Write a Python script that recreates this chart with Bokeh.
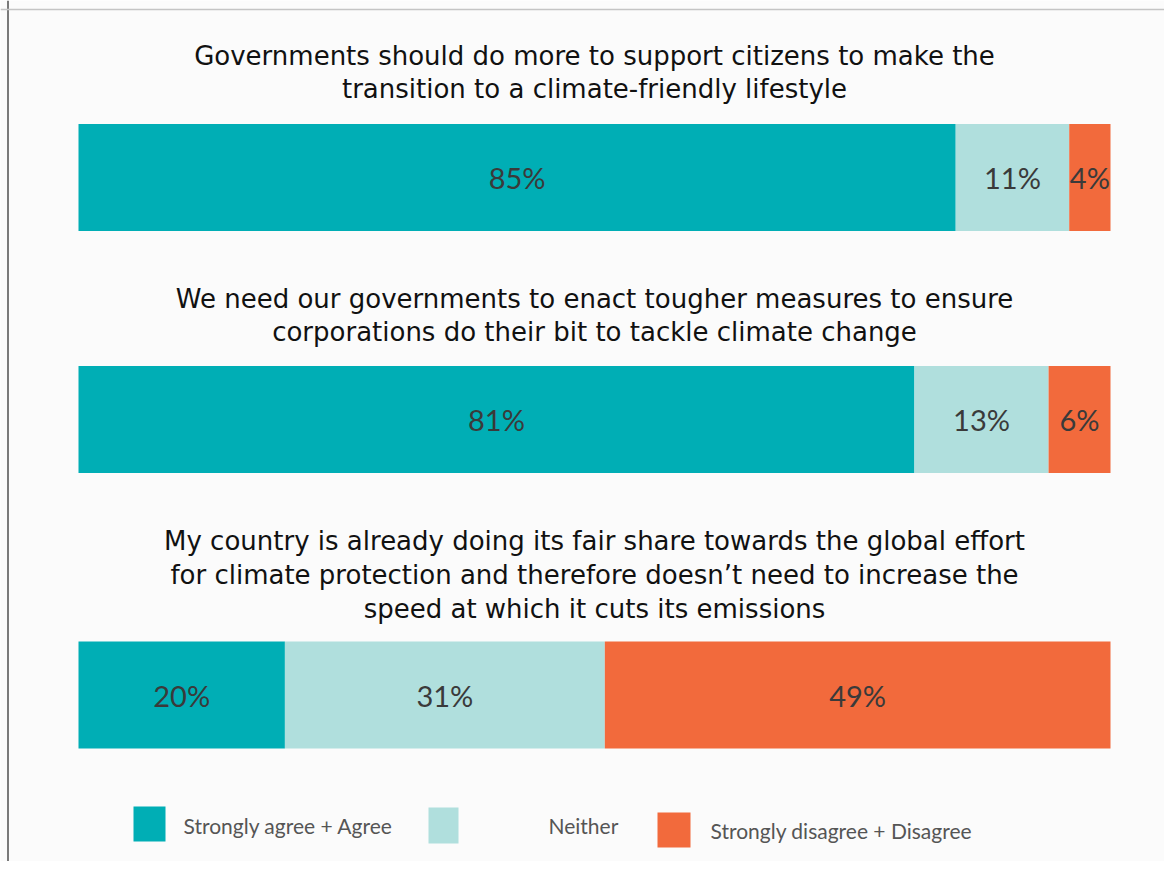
from bokeh.plotting import figure
from bokeh.models import Range1d, Span, ColumnDataSource
from bokeh.core.properties import value
from bokeh.embed import file_html
from bokeh.resources import INLINE

# ---- data ----
statements = [
    ["Governments should do more to support citizens to make the",
     "transition to a climate-friendly lifestyle"],
    ["We need our governments to enact tougher measures to ensure",
     "corporations do their bit to tackle climate change"],
    ["My country is already doing its fair share towards the global effort",
     "for climate protection and therefore doesn\u2019t need to increase the",
     "speed at which it cuts its emissions"],
]
agree = [85, 81, 20]
neither = [11, 13, 31]
disagree = [4, 6, 49]
series_names = ["Strongly agree + Agree", "Neither", "Strongly disagree + Disagree"]
colors = ["#00aeb5", "#b0dfdd", "#f26a3c"]

# ---- layout (reference pixel geometry) ----
W, H = 1164, 861
X0, X1 = 78, 1110            # pixel span of 0..100 %
def px(x):
    return (x - X0) / (X1 - X0) * 100.0

bar_center = [177, 419, 694.5]
bar_h = 107
title_base = [[55, 88], [298, 331], [540, 574, 608]]

p = figure(width=W, height=H, output_backend="svg", toolbar_location=None,
           x_axis_type=None, y_axis_type=None,
           x_range=Range1d(px(0), px(W)), y_range=Range1d(H, 0),
           min_border=0, outline_line_color=None,
           background_fill_color="#fbfbfb", border_fill_color="#fbfbfb")
p.grid.visible = False

series = [agree, neither, disagree]
for i, vals in enumerate(series):
    left = [sum(s[k] for s in series[:i]) for k in range(3)]
    right = [l + v for l, v in zip(left, vals)]
    src = ColumnDataSource(dict(y=bar_center, left=left, right=right,
                                mid=[(l + r) / 2 for l, r in zip(left, right)],
                                lab=[f"{v}%" for v in vals]))
    p.hbar(y="y", left="left", right="right", height=bar_h, source=src,
           fill_color=colors[i], line_color=None)
    p.text(x="mid", y="y", text="lab", source=src, text_align="center",
           text_baseline="middle", text_font=value("Lato"),
           text_font_size="29px", text_color="#3a3a3a")

# statement titles
tx, ty, tt = [], [], []
for lines, bases in zip(statements, title_base):
    for ln, b in zip(lines, bases):
        tx.append(50.0); ty.append(b); tt.append(ln)
p.text(x=tx, y=ty, text=tt, text_align="center", text_baseline="alphabetic",
       text_font=value("DejaVu Sans"), text_font_size="26px", text_color="#111111")

# legend
sq = [(133, 165, 806, 841), (428, 458, 807, 843), (657, 690, 812, 847)]
lab_pos = [(183, 825), (548, 825), (710, 830)]
for (x0, x1, y0, y1), c in zip(sq, colors):
    p.quad(left=px(x0), right=px(x1), top=y0, bottom=y1, fill_color=c, line_color=None)
p.text(x=[px(a) for a, _ in lab_pos], y=[b for _, b in lab_pos], text=series_names,
       text_align="left", text_baseline="alphabetic", text_font=value("Lato"),
       text_font_size="21px", text_color="#555555")

# frame lines (left and top)
p.add_layout(Span(location=px(7.5), dimension="height", line_color="#7a7a7a", line_width=2))
p.add_layout(Span(location=9, dimension="width", line_color="#c4c4c4", line_width=1.5))

open("out.html", "w").write(file_html(p, INLINE))
